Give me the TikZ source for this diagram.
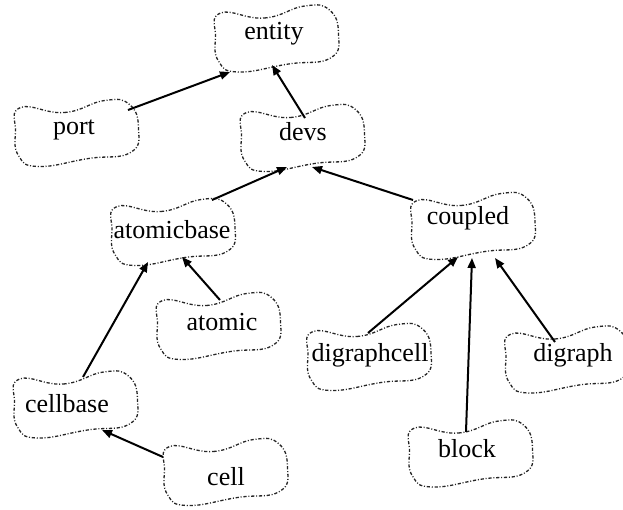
\documentclass[tikz,border=0pt]{standalone}
\usepackage{fontspec}
\setmainfont{Liberation Serif}
\usetikzlibrary{arrows.meta}
\begin{document}
\begin{tikzpicture}[x=0.5pt,y=-0.5pt,
  classname/.style={font=\fontsize{13}{15}\selectfont, anchor=base, inner sep=0pt},
  blobline/.style={line width=0.65pt, black!85,
    dash pattern=on 1.6pt off 0.9pt on 0.5pt off 0.9pt},
  inherit/.style={line width=1pt, -{Triangle[length=5pt,width=4pt]}},
  blob/.pic={\draw[blobline] plot[smooth cycle, tension=0.8] coordinates
    {(-56,-26) (-12,-21) (28,-33) (53,-29) (62,-5) (54,19)
     (12,25) (-38,33) (-58,22) (-61,-2)};}]
\useasboundingbox (0,0) rectangle (623,510);

% class clouds
\pic at (276.5,39) {blob};
\pic at (76.5,133.5) {blob};
\pic at (302.5,138.5) {blob};
\pic at (173,232.5) {blob};
\pic at (473,226.5) {blob};
\pic at (218.5,326.5) {blob};
\pic at (369,357.5) {blob};
\pic at (567,360) {blob};
\pic at (75.5,405) {blob};
\pic at (225.5,472.5) {blob};
\pic at (470.5,454) {blob};

% class names
\node[classname] (entity)      at (274,39.5) {entity};
\node[classname] (port)        at (74,134)   {port};
\node[classname] (devs)        at (303,140)  {devs};
\node[classname] (atomicbase)  at (172,238)  {atomicbase};
\node[classname] (coupled)     at (468,224)  {coupled};
\node[classname] (atomic)      at (222,330)  {atomic};
\node[classname] (digraphcell) at (370,361)  {digraphcell};
\node[classname] (digraph)     at (573,361)  {digraph};
\node[classname] (cellbase)    at (67,412)   {cellbase};
\node[classname] (cell)        at (226,485)  {cell};
\node[classname] (block)       at (467,457)  {block};

% inheritance arrows
\draw[inherit] ([shift={(54,-24)}]port.base) -- ([shift={(-44,32.5)}]entity.base);
\draw[inherit] ([shift={(2,-22)}]devs.base) -- ([shift={(-2,25.5)}]entity.base);
\draw[inherit] ([shift={(40,-38)}]atomicbase.base) -- ([shift={(-16,27)}]devs.base);
\draw[inherit] ([shift={(-55,-24)}]coupled.base) -- ([shift={(9,27)}]devs.base);
\draw[inherit] ([shift={(-2,-30)}]atomic.base) -- ([shift={(10,19)}]atomicbase.base);
\draw[inherit] ([shift={(16,-35)}]cellbase.base) -- ([shift={(-24,24)}]atomicbase.base);
\draw[inherit] ([shift={(-63,-28)}]cell.base) -- ([shift={(35,18)}]cellbase.base);
\draw[inherit] ([shift={(-2,-28)}]digraphcell.base) -- ([shift={(-10,33)}]coupled.base);
\draw[inherit] ([shift={(-1,-25)}]block.base) -- ([shift={(4,34)}]coupled.base);
\draw[inherit] ([shift={(-18,-19)}]digraph.base) -- ([shift={(27,34)}]coupled.base);
\end{tikzpicture}
\end{document}
